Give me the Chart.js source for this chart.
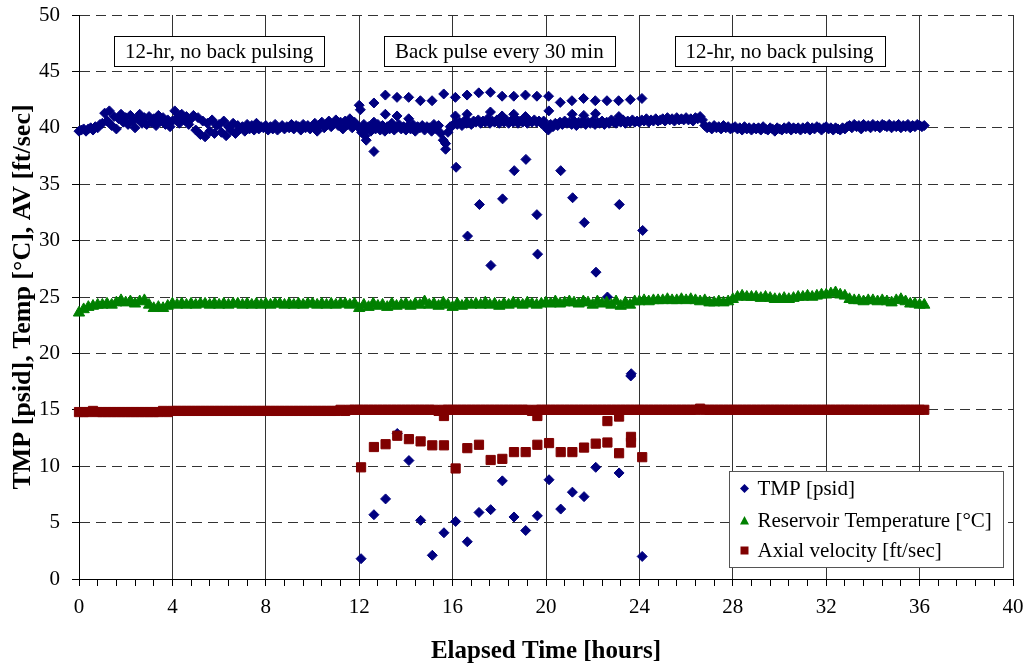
<!DOCTYPE html>
<html>
<head>
<meta charset="utf-8">
<script src="https://cdn.jsdelivr.net/npm/chart.js@4.4.1/dist/chart.umd.min.js"></script>
<style>
  html, body { margin: 0; padding: 0; background: #fff; }
</style>
</head>
<body>
<canvas id="chart" width="1027" height="664"></canvas>
<script>
// TMP is logged every 0.1 h, temperature and velocity every 0.2 h (0 to 36.2 h)
const TMP_STEP = 0.1;
const STEP = 0.2;

const tmpBase = [
  39.7, 39.8, 39.9, 39.7, 39.9, 40.0, 39.8, 40.1, 40.0, 40.3,
  40.4, 41.3, 40.6, 41.5, 40.2, 41.0, 39.9, 40.8, 41.2, 40.5,
  40.9, 40.3, 41.1, 40.6, 40.0, 40.8, 41.2, 40.4, 40.9, 40.3,
  41.0, 40.5, 40.8, 40.2, 41.1, 40.6, 40.9, 40.3, 40.7, 40.1,
  40.6, 41.5, 40.9, 40.4, 41.2, 40.7, 41.0, 40.3, 40.8, 41.1,
  39.8, 40.9, 39.4, 40.6, 39.2, 40.4, 39.7, 40.7, 39.5, 40.2,
  40.3, 39.6, 40.6, 39.3, 40.1, 39.8, 40.4, 39.5, 40.2, 39.9,
  40.1, 39.7, 40.3, 39.9, 40.2, 39.8, 40.4, 39.9, 40.1, 40.0,
  40.2, 39.8, 40.1, 39.9, 40.3, 39.8, 40.0, 40.2, 39.9, 40.1,
  40.0, 40.3, 39.9, 40.2, 40.1, 39.8, 40.3, 40.0, 40.2, 39.9,
  40.1, 40.4, 39.7, 40.2, 40.5, 40.0, 40.3, 40.6, 40.1, 40.4,
  40.7, 40.2, 40.5, 39.9, 40.6, 40.3, 40.8, 40.0, 40.5, 40.2,
  40.0, 39.6, 40.3, 39.8, 40.1, 39.7, 40.2, 39.9, 40.3, 39.8,
  40.2, 39.7, 40.1, 39.9, 40.4, 39.8, 40.0, 40.3, 39.9, 40.1,
  39.8, 40.2, 39.9, 40.3, 39.7, 40.1, 40.0, 40.2, 39.8, 40.1,
  40.0, 39.7, 40.3, 39.9, 40.2, 39.5, 38.9, 38.6, 39.6, 40.1,
  40.2, 40.4, 40.3, 40.5, 40.2, 40.6, 40.4, 40.5, 40.3, 40.6,
  40.5, 40.7, 40.4, 40.6, 40.5, 40.8, 40.4, 40.6, 40.5, 40.7,
  40.4, 40.6, 40.5, 40.7, 40.4, 40.6, 40.5, 40.8, 40.4, 40.6,
  40.5, 40.7, 40.4, 40.6, 40.5, 40.7, 40.5, 40.6, 40.4, 40.6,
  40.0, 39.8, 40.3, 40.1, 40.4, 40.2, 40.5, 40.3, 40.6, 40.4,
  40.5, 40.3, 40.6, 40.2, 40.5, 40.4, 40.6, 40.3, 40.5, 40.4,
  40.6, 40.3, 40.5, 40.4, 40.6, 40.3, 40.5, 40.4, 40.7, 40.5,
  40.4, 40.6, 40.5, 40.7, 40.4, 40.6, 40.5, 40.7, 40.5, 40.6,
  40.5, 40.7, 40.6, 40.8, 40.5, 40.7, 40.6, 40.8, 40.6, 40.7,
  40.8, 40.6, 40.9, 40.7, 40.8, 40.6, 40.9, 40.7, 40.8, 40.7,
  40.9, 40.7, 40.8, 40.6, 40.9, 40.8, 41.0, 40.7, 40.2, 40.0,
  40.1, 39.9, 40.2, 40.0, 40.1, 39.9, 40.2, 40.0, 40.1, 39.9,
  40.0, 40.1, 39.9, 40.0, 39.8, 40.1, 39.9, 40.0, 39.8, 40.0,
  39.9, 40.0, 39.8, 40.1, 39.9, 39.8, 40.0, 39.9, 39.7, 40.0,
  39.9, 39.8, 40.0, 39.9, 40.1, 39.8, 40.0, 39.9, 40.0, 39.8,
  40.0, 39.9, 40.1, 39.8, 40.0, 39.9, 40.1, 40.0, 39.8, 40.0,
  40.1, 39.9, 40.0, 39.8, 40.0, 39.9, 39.8, 40.0, 39.9, 40.1,
  40.2, 40.0, 40.3, 40.1, 40.2, 39.9, 40.3, 40.1, 40.2, 40.0,
  40.3, 40.1, 40.2, 40.0, 40.3, 40.2, 40.1, 40.3, 40.0, 40.2,
  40.1, 40.3, 40.0, 40.2, 40.1, 40.3, 40.0, 40.2, 40.1, 40.3,
  40.2, 40.1, 40.2
];

const tempBase = [
  23.6, 23.9, 24.1, 24.2, 24.3, 24.3, 24.4, 24.3, 24.5, 24.7, 24.5, 24.6, 24.4, 24.6, 24.7, 24.3, 24.0, 24.1, 24.0, 24.2,
  24.4, 24.3, 24.4, 24.3, 24.4, 24.3, 24.4, 24.4, 24.3, 24.4, 24.3, 24.4, 24.3, 24.4, 24.4, 24.3, 24.4, 24.3, 24.4, 24.3,
  24.4, 24.3, 24.4, 24.4, 24.3, 24.4, 24.3, 24.4, 24.3, 24.4, 24.4, 24.3, 24.4, 24.3, 24.4, 24.3, 24.4, 24.4, 24.3, 24.4,
  24.0, 24.3, 24.1, 24.4, 24.2, 24.3, 24.1, 24.4, 24.2, 24.3, 24.4, 24.2, 24.4, 24.3, 24.6, 24.3, 24.4, 24.2, 24.5, 24.3,
  24.1, 24.4, 24.2, 24.4, 24.3, 24.4, 24.3, 24.5, 24.3, 24.4, 24.2, 24.4, 24.3, 24.5, 24.4, 24.3, 24.5, 24.4, 24.3, 24.4,
  24.5, 24.4, 24.6, 24.4, 24.5, 24.6, 24.5, 24.4, 24.6, 24.5, 24.3, 24.6, 24.4, 24.5, 24.3, 24.6, 24.2, 24.5, 24.3, 24.6,
  24.6, 24.7, 24.6, 24.7, 24.7, 24.7, 24.8, 24.7, 24.7, 24.8, 24.7, 24.8, 24.7, 24.6, 24.7, 24.5, 24.5, 24.6, 24.5, 24.6,
  24.8, 25.0, 25.1, 25.0, 25.0, 25.0, 24.9, 25.0, 24.9, 24.8, 24.8, 24.9, 24.8, 24.9, 25.0, 25.0, 25.1, 25.0, 25.1, 25.2,
  25.2, 25.3, 25.4, 25.2, 25.1, 24.8, 24.7, 24.7, 24.6, 24.7, 24.7, 24.6, 24.7, 24.6, 24.5, 24.7, 24.8, 24.6, 24.4, 24.4,
  24.3, 24.3
];

const avBase = [
  14.8, 14.8, 14.8, 14.9, 14.8, 14.8, 14.8, 14.8, 14.8, 14.8, 14.8, 14.8, 14.8, 14.8, 14.8, 14.8, 14.8, 14.8, 14.9, 14.8,
  14.9, 14.9, 14.9, 14.9, 14.9, 14.9, 14.9, 14.9, 14.9, 14.9, 14.9, 14.9, 14.9, 14.9, 14.9, 14.9, 14.9, 14.9, 14.9, 14.9,
  14.9, 14.9, 14.9, 14.9, 14.9, 14.9, 14.9, 14.9, 14.9, 14.9, 14.9, 14.9, 14.9, 14.9, 14.9, 14.9, 15.0, 14.9, 15.0, 15.0,
  15.0, 15.0, 15.0, 15.0, 15.0, 15.0, 15.0, 15.0, 15.0, 15.0, 15.0, 15.0, 15.0, 15.0, 15.0, 15.0, 15.0, 14.9, 15.0, 15.0,
  15.0, 15.0, 15.0, 15.0, 15.0, 15.0, 15.0, 15.0, 15.0, 15.0, 15.0, 15.0, 15.0, 15.0, 15.0, 15.0, 15.0, 14.9, 15.0, 15.0,
  15.0, 15.0, 15.0, 15.0, 15.0, 15.0, 15.0, 15.0, 15.0, 15.0, 15.0, 15.0, 15.0, 15.0, 15.0, 15.0, 15.0, 15.0, 15.0, 15.0,
  15.0, 15.0, 15.0, 15.0, 15.0, 15.0, 15.0, 15.0, 15.0, 15.0, 15.0, 15.0, 15.0, 15.1, 15.0, 15.0, 15.0, 15.0, 15.0, 15.0,
  15.0, 15.0, 15.0, 15.0, 15.0, 15.0, 15.0, 15.0, 15.0, 15.0, 15.0, 15.0, 15.0, 15.0, 15.0, 15.0, 15.0, 15.0, 15.0, 15.0,
  15.0, 15.0, 15.0, 15.0, 15.0, 15.0, 15.0, 15.0, 15.0, 15.0, 15.0, 15.0, 15.0, 15.0, 15.0, 15.0, 15.0, 15.0, 15.0, 15.0,
  15.0, 15.0
];

// Back-pulse period (12-24 h): readings caught around each pulse
const tmpPulseTime = [
  12.0, 12.05, 12.08, 12.25, 12.3, 12.63, 12.63, 12.63, 12.63,
  13.12, 13.12, 13.13, 13.62, 13.62, 13.63, 14.12, 14.12, 14.13, 14.62, 14.63,
  15.12, 15.13, 15.62, 15.63, 15.7, 16.12, 16.12, 16.13, 16.15,
  16.62, 16.62, 16.63, 16.64, 17.12, 17.13, 17.15, 17.62, 17.62, 17.63, 17.64,
  18.12, 18.12, 18.13, 18.14, 18.62, 18.62, 18.63, 18.64, 19.12, 19.12, 19.13, 19.14,
  19.61, 19.61, 19.63, 19.64, 20.11, 20.12, 20.13, 20.61, 20.63, 20.63,
  21.11, 21.12, 21.13, 21.14, 21.61, 21.62, 21.63, 21.64, 22.11, 22.12, 22.13, 22.14,
  22.61, 22.63, 23.11, 23.12, 23.13, 23.14, 23.61, 23.63, 23.65, 24.11, 24.12, 24.14
];
const tmpPulseVal = [
  42.0, 41.6, 1.8, 39.3, 38.9, 42.2, 40.5, 37.9, 5.7,
  42.9, 41.2, 7.1, 42.7, 41.05, 12.9, 42.7, 40.8, 10.5, 42.4, 5.2,
  42.4, 2.1, 43.0, 4.1, 38.1, 42.7, 41.05, 5.1, 36.5,
  42.9, 41.2, 3.3, 30.4, 43.1, 5.9, 33.2, 43.15, 41.4, 6.15, 27.8,
  42.8, 41.05, 8.7, 33.7, 42.8, 41.2, 5.5, 36.2, 42.9, 41.0, 4.3, 37.2,
  42.8, 32.3, 5.6, 28.8, 42.8, 41.5, 8.8, 42.25, 36.2, 6.2,
  42.4, 41.2, 7.7, 33.8, 42.6, 41.1, 7.3, 31.6, 42.4, 41.25, 9.9, 27.2,
  42.4, 25.0, 42.4, 41.0, 9.4, 33.2, 42.5, 18.0, 18.2, 42.6, 2.0, 30.9
];

const avPulseTime = [
  12.08, 12.63, 13.13, 13.63, 14.13, 14.63, 15.13, 15.63, 15.63, 16.13,
  16.63, 17.13, 17.63, 18.13, 18.63, 19.13, 19.63, 19.63, 20.13, 20.63,
  21.13, 21.63, 22.13, 22.63, 22.63, 23.13, 23.13, 23.64, 23.64, 24.12
];
const avPulseVal = [
  9.9, 11.7, 11.95, 12.7, 12.4, 12.2, 11.85, 11.85, 14.45, 9.8,
  11.6, 11.9, 10.55, 10.65, 11.25, 11.25, 11.9, 14.45, 12.05, 11.25,
  11.25, 11.65, 12.0, 12.1, 14.0, 11.15, 14.4, 12.1, 12.6, 10.8
];

const seriesNames = ['TMP [psid]', 'Reservoir Temperature [°C]', 'Axial velocity [ft/sec]'];
const seriesColors = ['#000080', '#008000', '#800000'];

const periodLabels = ['12-hr, no back pulsing', 'Back pulse every 30 min', '12-hr, no back pulsing'];
const periodCenters = [6, 18, 30];   // hours
const periodLevel = 46.8;            // y value of the label boxes

const FONT = "'Liberation Serif', 'Times New Roman', serif";

function basePoints(vals, step) {
  return vals.map((v, i) => ({ x: Math.round(i * step * 10) / 10, y: v }));
}
function pairPoints(ts, vs) {
  return ts.map((t, i) => ({ x: t, y: vs[i] }));
}

// Text boxes marking the three test periods
const periodBoxes = {
  id: 'periodBoxes',
  afterDatasetsDraw(chart) {
    const ctx = chart.ctx;
    const xs = chart.scales.x, ys = chart.scales.y;
    ctx.save();
    ctx.font = '21px ' + FONT;
    ctx.textAlign = 'center';
    ctx.textBaseline = 'middle';
    periodLabels.forEach((txt, i) => {
      const cx = xs.getPixelForValue(periodCenters[i]);
      const cy = ys.getPixelForValue(periodLevel);
      const w = Math.round(ctx.measureText(txt).width + 22);
      const h = 30;
      const x0 = Math.round(cx - w / 2) + 0.5, y0 = Math.round(cy - h / 2) + 0.5;
      ctx.fillStyle = '#fff';
      ctx.fillRect(x0, y0, w, h);
      ctx.strokeStyle = '#000';
      ctx.lineWidth = 1;
      ctx.strokeRect(x0, y0, w, h);
      ctx.fillStyle = '#000';
      ctx.fillText(txt, cx, cy + 1);
    });
    ctx.restore();
  }
};

// Legend box inside the plot, lower right
const boxLegend = {
  id: 'boxLegend',
  afterDraw(chart) {
    const ctx = chart.ctx;
    const area = chart.chartArea;
    ctx.save();
    ctx.font = '21px ' + FONT;
    const textW = Math.max(...seriesNames.map(s => ctx.measureText(s).width));
    const w = Math.round(28 + textW + 12), h = 96;
    const x0 = Math.round(area.right - 10 - w) + 0.5;
    const y0 = Math.round(area.bottom - 12 - h) + 0.5;
    ctx.fillStyle = '#fff';
    ctx.fillRect(x0, y0, w, h);
    ctx.strokeStyle = '#555';
    ctx.lineWidth = 1;
    ctx.strokeRect(x0, y0, w, h);
    const rows = [17, 49, 79];
    rows.forEach((dy, i) => {
      const mx = x0 + 15, my = y0 + dy;
      ctx.fillStyle = seriesColors[i];
      ctx.beginPath();
      if (i === 0) {
        ctx.moveTo(mx, my - 4.5); ctx.lineTo(mx + 4.5, my); ctx.lineTo(mx, my + 4.5); ctx.lineTo(mx - 4.5, my);
      } else if (i === 1) {
        ctx.moveTo(mx, my - 4.5); ctx.lineTo(mx + 4.5, my + 4); ctx.lineTo(mx - 4.5, my + 4);
      } else {
        ctx.rect(mx - 4, my - 4, 8, 8);
      }
      ctx.closePath();
      ctx.fill();
      ctx.fillStyle = '#000';
      ctx.textAlign = 'left';
      ctx.textBaseline = 'middle';
      ctx.fillText(seriesNames[i], x0 + 28, my + 1);
    });
    ctx.restore();
  }
};

function isMajor(v) {
  return Math.round(v * 10) % 40 === 0;
}

const pointCommon = { showLine: false, clip: false, borderWidth: 1 };

new Chart(document.getElementById('chart').getContext('2d'), {
  type: 'scatter',
  data: {
    datasets: [
      { ...pointCommon, label: seriesNames[0],
        data: basePoints(tmpBase, TMP_STEP).concat(pairPoints(tmpPulseTime, tmpPulseVal)),
        pointStyle: 'rectRot', pointRadius: 5, backgroundColor: seriesColors[0], borderColor: seriesColors[0], order: 3 },
      { ...pointCommon, label: seriesNames[1], data: basePoints(tempBase, STEP),
        pointStyle: 'triangle', pointRadius: 6.5, backgroundColor: seriesColors[1], borderColor: seriesColors[1], order: 2 },
      { ...pointCommon, label: seriesNames[2],
        data: basePoints(avBase, STEP).concat(pairPoints(avPulseTime, avPulseVal)),
        pointStyle: 'rect', pointRadius: 6.5, backgroundColor: seriesColors[2], borderColor: seriesColors[2], order: 1 }
    ]
  },
  options: {
    responsive: false,
    animation: false,
    devicePixelRatio: 1,
    layout: { autoPadding: false, padding: { top: 15, right: 14, left: 0, bottom: 0 } },
    plugins: {
      legend: { display: false },
      tooltip: { enabled: false }
    },
    scales: {
      x: {
        type: 'linear',
        min: 0,
        max: 40,
        afterFit(s) { s.height = 85; s.paddingLeft = 0; s.paddingRight = 0; },
        ticks: {
          stepSize: 0.8,
          autoSkip: false,
          maxRotation: 0,
          padding: 9,
          color: '#000',
          font: { family: FONT, size: 21 },
          callback: v => isMajor(v) ? String(Math.round(v)) : ''
        },
        grid: {
          color: c => (c.tick && isMajor(c.tick.value)) ? '#333' : 'rgba(0,0,0,0)',
          tickColor: '#000',
          tickLength: 7,
          lineWidth: 1
        },
        border: { color: '#000', width: 1 },
        title: {
          display: true,
          text: 'Elapsed Time [hours]',
          color: '#000',
          font: { family: FONT, size: 25, weight: 'bold', lineHeight: 1 },
          padding: { top: 0, bottom: 0 }
        }
      },
      y: {
        min: 0,
        max: 50,
        afterFit(s) { s.width = 79; s.paddingTop = 0; s.paddingBottom = 0; },
        ticks: {
          stepSize: 5,
          padding: 12,
          color: '#000',
          font: { family: FONT, size: 21 }
        },
        grid: {
          color: '#333',
          tickColor: '#000',
          tickLength: 7,
          lineWidth: 1
        },
        border: { color: '#000', width: 1, dash: [10, 6] },
        title: {
          display: true,
          text: 'TMP [psid], Temp [°C], AV [ft/sec]',
          color: '#000',
          font: { family: FONT, size: 26, weight: 'bold', lineHeight: 1 },
          padding: { top: 10, bottom: 0 }
        }
      }
    }
  },
  plugins: [periodBoxes, boxLegend]
});
</script>
</body>
</html>
